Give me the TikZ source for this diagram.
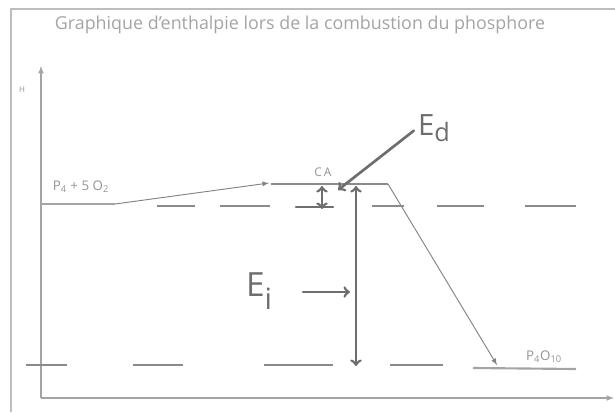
\documentclass[tikz,border=0pt]{standalone}
\usepackage{fontspec}
\setmainfont{Open Sans}
\usepackage{tikz}
\usetikzlibrary{positioning}

\definecolor{printgray}{HTML}{A4A4A4}
\definecolor{framegray}{HTML}{BDBDBD}
\definecolor{pengray}{HTML}{6E6E6E}

\begin{document}
\begin{tikzpicture}[
  x=0.75pt, y=-0.75pt,
  frame/.style={draw=framegray,line width=1.2pt},
  axis/.style={draw=printgray,line width=0.9pt,-latex},
  guide/.style={draw=printgray!85!black,line width=1.6pt},
  level/.style={draw=printgray,line width=1.6pt},
  plateau/.style={draw=pengray!80,line width=1.3pt},
  thinarrow/.style={draw=printgray!80!black,line width=0.7pt,-latex},
  hand/.style={draw=pengray,line width=2pt,line cap=round,line join=round},
  handtext/.style={text=pengray,inner sep=0pt},
  printtext/.style={text=printgray!90!black,inner sep=0pt}
]
  \useasboundingbox (0,0) rectangle (615,412);

  % outer frame and title
  \draw[frame] (11,412) |- (615,9);
  \node[printtext,text=printgray,font=\fontsize{13.4}{15}\selectfont] (title) at (300,25)
    {Graphique d'enthalpie lors de la combustion du phosphore};

  % axes
  \coordinate (orig) at (41,398);
  \coordinate (ytop) at (41,66);
  \coordinate (xend) at (614,398);
  \draw[axis] (orig) -- (ytop);
  \draw[axis] (orig) -- (xend);
  \node[printtext,font=\fontsize{6}{7}\selectfont] (H) at (22,90) {H};

  % reactants
  \coordinate (reacL) at (41,204);
  \coordinate (reacR) at (115,204);
  \draw[level] (reacL) -- (reacR);
  \node[printtext,font=\fontsize{10}{12}\selectfont] (reac) at (81,187)
    {P\textsubscript{4} + 5 O\textsubscript{2}};

  % activated complex
  \coordinate (caL) at (271,184);
  \coordinate (caR) at (388,184);
  \coordinate (caIn) at (269,183);
  \draw[plateau] (caL) -- (caR);
  \node[printtext,font=\fontsize{9}{11}\selectfont] (ca) at (323,172) {C\,A};
  \draw[thinarrow] (reacR) -- (caIn);

  % products
  \coordinate (prodL) at (473,368);
  \coordinate (prodR) at (576,369);
  \coordinate (prodTip) at (497,365);
  \draw[level] (prodL) -- (prodR);
  \node[printtext,font=\fontsize{10}{12}\selectfont] (prod) at (544,357)
    {P\textsubscript{4}O\textsubscript{10}};
  \draw[thinarrow] (caR) -- (prodTip);

  % dashed guide lines
  \foreach \a/\b in {157/195,220/270,372/404,437/484,525/576}
    \draw[guide] (\a,206) -- (\b,206);
  \foreach \a/\b in {26/67,133/183,264/333,390/443}
    \draw[guide] (\a,365) -- (\b,365);

  % pen marks
  \coordinate (dTop) at (322,186);
  \coordinate (dBot) at (322,209);
  \coordinate (tickL) at (296,207);
  \coordinate (tickR) at (333,207);
  \draw[hand] (tickL) -- (tickR);
  \draw[hand,<->] (dTop) -- (dBot);

  \coordinate (iTop) at (356,186);
  \coordinate (iBot) at (356,366);
  \draw[hand,<->] (iTop) -- (iBot);

  \node[handtext,font=\fontsize{22}{24}\selectfont] (ed) at (434,128)
    {E\raisebox{-5pt}{\fontsize{19}{21}\selectfont d}};
  \coordinate (edTip) at (338,190);
  \draw[hand,->] ([xshift=-3pt,yshift=-2pt]ed.west) -- (edTip);

  \node[handtext,font=\fontsize{25}{27}\selectfont] (ei) at (259,291)
    {E\raisebox{-10pt}{\fontsize{22}{24}\selectfont i}};
  \coordinate (eiTail) at (303,292);
  \coordinate (eiTip) at (350,292);
  \draw[hand,->] (eiTail) -- (eiTip);
\end{tikzpicture}
\end{document}
